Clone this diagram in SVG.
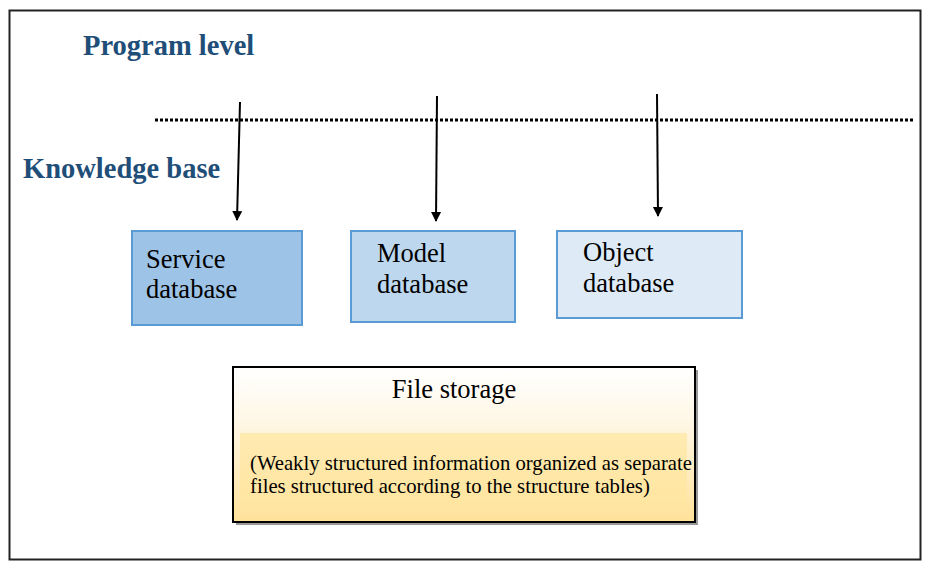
<svg xmlns="http://www.w3.org/2000/svg" width="948" height="576" viewBox="0 0 948 576">
<style>
text{font-family:'Liberation Serif','Times New Roman','DejaVu Serif',serif}
.h{font-weight:bold;font-size:28.5px;fill:#1F4E79}
.t{font-size:26.5px;fill:#000}
.s{font-size:20.7px;fill:#000}
.box{stroke:#5B9BD5;stroke-width:2}
.arr{stroke:#000;stroke-width:2;fill:none;marker-end:url(#ah)}
</style>
<defs>
<marker id="ah" markerWidth="10" markerHeight="12" refX="9" refY="6" orient="auto" markerUnits="userSpaceOnUse">
<path d="M0,1 L10,6 L0,11 z" fill="#000"/>
</marker>
<linearGradient id="fg" x1="0" y1="0" x2="0" y2="1">
<stop offset="0" stop-color="#FFFFFF"/>
<stop offset="0.35" stop-color="#FFF7E6"/>
<stop offset="1" stop-color="#FFE199"/>
</linearGradient>
</defs>
<rect width="948" height="576" fill="#fff"/>
<rect x="9.5" y="10.5" width="911" height="549" fill="none" stroke="#222" stroke-width="2"/>
<text class="h" x="83" y="55">Program level</text>
<text class="h" x="23" y="178">Knowledge base</text>
<line x1="155" y1="120" x2="913" y2="120" stroke="#000" stroke-width="3" stroke-dasharray="3,2"/>
<g id="connectors">
<line class="arr" x1="240" y1="102" x2="237" y2="220"/>
<line class="arr" x1="437" y1="96" x2="436" y2="221"/>
<line class="arr" x1="657" y1="94" x2="658" y2="216"/>
</g>
<g id="service">
<rect class="box" x="132" y="231" width="170" height="94" fill="#9DC3E6"/>
<text class="t" x="146" y="268">Service</text>
<text class="t" x="146" y="298">database</text>
</g>
<g id="model">
<rect class="box" x="351" y="231" width="164" height="91" fill="#BDD7EE"/>
<text class="t" x="377" y="262">Model</text>
<text class="t" x="377" y="293">database</text>
</g>
<g id="object">
<rect class="box" x="557" y="231" width="185" height="87" fill="#DEEBF7"/>
<text class="t" x="583" y="261">Object</text>
<text class="t" x="583" y="292">database</text>
</g>
<g id="filestorage">
<rect x="236" y="370" width="462" height="155" fill="#999"/>
<rect x="233" y="367" width="462" height="155" fill="url(#fg)" stroke="#000" stroke-width="2"/>
<rect x="240" y="433" width="447" height="78" fill="#FFE59E" opacity="0.7"/>
<text class="t" x="454" y="398" text-anchor="middle">File storage</text>
<text class="s" x="250" y="470">(Weakly structured information organized as separate</text>
<text class="s" x="250" y="493">files structured according to the structure tables)</text>
</g>
</svg>
